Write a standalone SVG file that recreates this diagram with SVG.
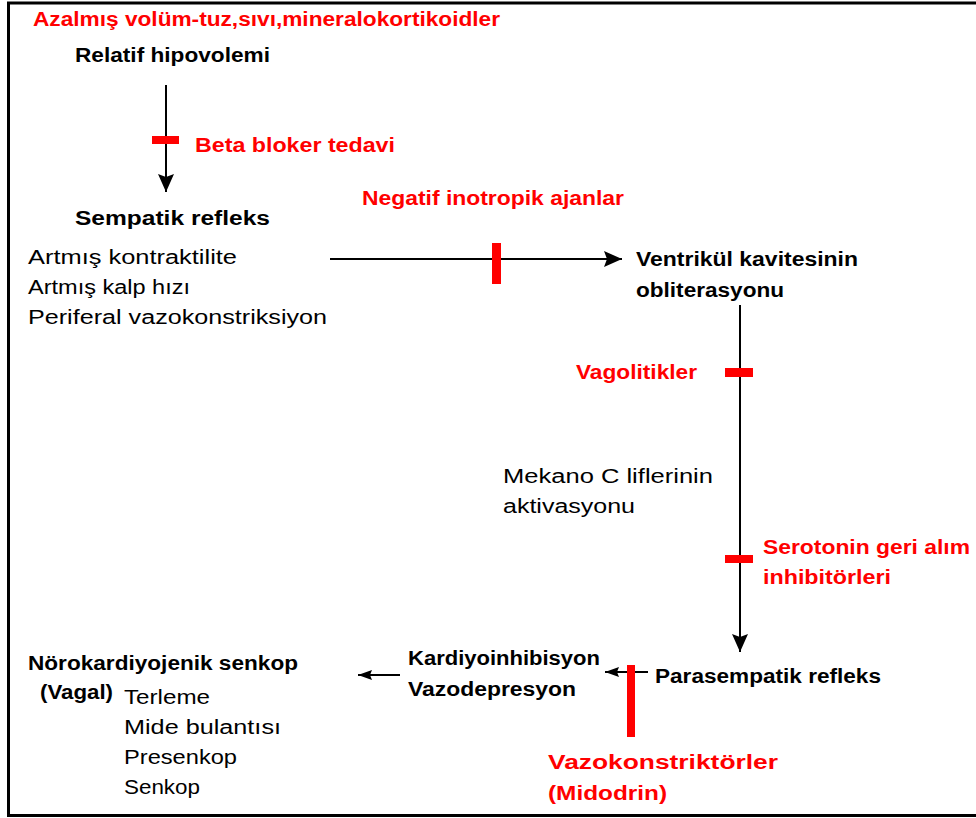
<svg xmlns="http://www.w3.org/2000/svg" width="976" height="818" viewBox="0 0 976 818">
<style>
text{font-family:"Liberation Sans",Arial,sans-serif;font-size:20px;fill:#000}
.b{font-weight:bold}
.r{fill:#ff0000;font-weight:bold}
.ln{stroke:#000;stroke-width:2;fill:none}
.blk{fill:#ff0000}
</style>
<defs>
<marker id="ah" markerUnits="userSpaceOnUse" markerWidth="20" markerHeight="18" refX="18" refY="8" orient="auto">
<path d="M0,0 L18,8 L0,16 L3,8 z" fill="#000"/>
</marker>
<marker id="as" markerUnits="userSpaceOnUse" markerWidth="16" markerHeight="12" refX="14" refY="5" orient="auto">
<path d="M0,0 L14,5 L0,10 L2,5 z" fill="#000"/>
</marker>
</defs>
<rect width="976" height="818" fill="#fff"/>
<g id="frame" fill="none" stroke="#000" stroke-width="3">
<path d="M976,3 H8.5 V815.5 H976"/>
</g>
<g id="connectors">
<line class="ln" x1="166" y1="85" x2="166" y2="192" marker-end="url(#ah)"/>
<line class="ln" x1="330" y1="259" x2="622" y2="259" marker-end="url(#ah)"/>
<line class="ln" x1="740" y1="305" x2="740" y2="652" marker-end="url(#ah)"/>
<line class="ln" x1="648" y1="672" x2="605" y2="672" marker-end="url(#as)"/>
<line class="ln" x1="400" y1="675" x2="358" y2="675" marker-end="url(#as)"/>
</g>
<g id="blockers">
<rect class="blk" x="152" y="136" width="27" height="8"/>
<rect class="blk" x="492" y="243" width="9" height="41"/>
<rect class="blk" x="725" y="368" width="28" height="9"/>
<rect class="blk" x="725" y="555" width="28" height="8"/>
<rect class="blk" x="627" y="665" width="8" height="72"/>
</g>
<g id="azalmis"><text class="r" x="33" y="26" textLength="467" lengthAdjust="spacingAndGlyphs">Azalmış volüm-tuz,sıvı,mineralokortikoidler</text></g>
<g id="relatif"><text class="b" x="75" y="62" textLength="195" lengthAdjust="spacingAndGlyphs">Relatif hipovolemi</text></g>
<g id="beta"><text class="r" x="195" y="152" textLength="200" lengthAdjust="spacingAndGlyphs">Beta bloker tedavi</text></g>
<g id="sempatik">
<text class="b" x="75" y="225" textLength="195" lengthAdjust="spacingAndGlyphs">Sempatik refleks</text>
<text x="28" y="264" textLength="209" lengthAdjust="spacingAndGlyphs">Artmış kontraktilite</text>
<text x="28" y="294" textLength="162" lengthAdjust="spacingAndGlyphs">Artmış kalp hızı</text>
<text x="28" y="324" textLength="299" lengthAdjust="spacingAndGlyphs">Periferal vazokonstriksiyon</text>
</g>
<g id="negatif"><text class="r" x="362" y="205" textLength="262" lengthAdjust="spacingAndGlyphs">Negatif inotropik ajanlar</text></g>
<g id="ventrikul">
<text class="b" x="636" y="266" textLength="222" lengthAdjust="spacingAndGlyphs">Ventrikül kavitesinin</text>
<text class="b" x="636" y="297" textLength="148" lengthAdjust="spacingAndGlyphs">obliterasyonu</text>
</g>
<g id="vagolitikler"><text class="r" x="576" y="379" textLength="121" lengthAdjust="spacingAndGlyphs">Vagolitikler</text></g>
<g id="mekano">
<text x="503" y="483" textLength="210" lengthAdjust="spacingAndGlyphs">Mekano C liflerinin</text>
<text x="503" y="513" textLength="132" lengthAdjust="spacingAndGlyphs">aktivasyonu</text>
</g>
<g id="serotonin">
<text class="r" x="763" y="554" textLength="207" lengthAdjust="spacingAndGlyphs">Serotonin geri alım</text>
<text class="r" x="763" y="584" textLength="128" lengthAdjust="spacingAndGlyphs">inhibitörleri</text>
</g>
<g id="parasempatik"><text class="b" x="655" y="683" textLength="226" lengthAdjust="spacingAndGlyphs">Parasempatik refleks</text></g>
<g id="kardiyoinhibisyon">
<text class="b" x="408" y="665" textLength="192" lengthAdjust="spacingAndGlyphs">Kardiyoinhibisyon</text>
<text class="b" x="408" y="696" textLength="168" lengthAdjust="spacingAndGlyphs">Vazodepresyon</text>
</g>
<g id="vazokonstriktorler">
<text class="r" x="548" y="769" textLength="230" lengthAdjust="spacingAndGlyphs">Vazokonstriktörler</text>
<text class="r" x="548" y="800" textLength="119" lengthAdjust="spacingAndGlyphs">(Midodrin)</text>
</g>
<g id="norokardiyojenik">
<text class="b" x="28" y="670" textLength="270" lengthAdjust="spacingAndGlyphs">Nörokardiyojenik senkop</text>
<text class="b" x="40" y="699" textLength="73" lengthAdjust="spacingAndGlyphs">(Vagal)</text>
<text x="124" y="704" textLength="86" lengthAdjust="spacingAndGlyphs">Terleme</text>
<text x="124" y="734" textLength="157" lengthAdjust="spacingAndGlyphs">Mide bulantısı</text>
<text x="124" y="764" textLength="113" lengthAdjust="spacingAndGlyphs">Presenkop</text>
<text x="124" y="794" textLength="76" lengthAdjust="spacingAndGlyphs">Senkop</text>
</g>
</svg>
